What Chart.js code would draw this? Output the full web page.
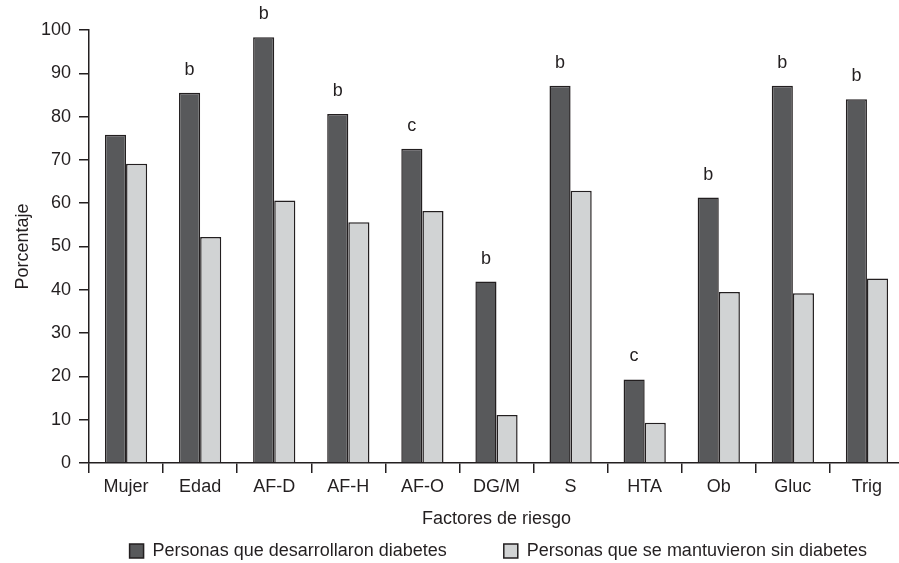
<!DOCTYPE html>
<html lang="es">
<head>
<meta charset="utf-8">
<title>Factores de riesgo</title>
<script src="https://cdn.jsdelivr.net/npm/chart.js@4.4.1/dist/chart.umd.min.js"></script>
<style>
  html, body { margin: 0; padding: 0; background: #fff; overflow: hidden; }
  /* la figure d'origine coupe la dernière catégorie au bord droit */
  #wrap { width: 904px; height: 563px; }
</style>
</head>
<body>
<div id="wrap"><canvas id="myChart"></canvas></div>
<script>
// Données
const factores = ['Mujer', 'Edad', 'AF-D', 'AF-H', 'AF-O', 'DG/M', 'S', 'HTA', 'Ob', 'Gluc', 'Trig'];
const conDiabetes = [75.8, 85.5, 98.3, 80.6, 72.6, 41.9, 87.1, 19.3, 61.3, 87.1, 84.0];
const sinDiabetes = [69.1, 52.2, 60.6, 55.6, 58.2, 11.1, 62.9, 9.3, 39.5, 39.2, 42.6];
const letras = ['', 'b', 'b', 'b', 'c', 'b', 'b', 'c', 'b', 'b', 'b'];
const yMin = 0;
const yMax = 100;
const yStep = 10;

const ink = '#231f20';
const font = '"Liberation Sans", Arial, Helvetica, sans-serif';

Chart.defaults.font.family = font;
Chart.defaults.font.size = 18;
Chart.defaults.color = ink;

// lettres de significativité au-dessus des barres foncées
const letrasPlugin = {
  id: 'letras',
  afterDatasetsDraw(chart) {
    const ctx = chart.ctx;
    const meta = chart.getDatasetMeta(0);
    ctx.save();
    ctx.font = '18px ' + font;
    ctx.fillStyle = ink;
    ctx.textAlign = 'center';
    ctx.textBaseline = 'middle';
    meta.data.forEach((bar, i) => {
      if (letras[i]) ctx.fillText(letras[i], bar.x, bar.y - 23);
    });
    ctx.restore();
  }
};

const legendPadding = 12;

new Chart(document.getElementById('myChart'), {
  type: 'bar',
  data: {
    labels: factores,
    datasets: [
      {
        label: 'Personas que desarrollaron diabetes',
        data: conDiabetes,
        backgroundColor: '#58595b',
        borderColor: ink,
        borderWidth: 1.5
      },
      {
        label: 'Personas que se mantuvieron sin diabetes',
        data: sinDiabetes,
        backgroundColor: '#d1d3d4',
        borderColor: ink,
        borderWidth: 1.5
      }
    ]
  },
  options: {
    responsive: true,
    maintainAspectRatio: false,
    animation: false,
    categoryPercentage: 0.57,
    barPercentage: 1.0,
    layout: {
      padding: { top: 30, right: 0, bottom: 0, left: 0 }
    },
    scales: {
      x: {
        grid: {
          offset: true,
          drawOnChartArea: false,
          drawTicks: true,
          tickLength: 10,
          color: ink,
          lineWidth: 1.5
        },
        border: { display: true, color: ink, width: 1.5 },
        ticks: { padding: 3, maxRotation: 0, font: { size: 18 } },
        title: {
          display: true,
          text: 'Factores de riesgo',
          font: { size: 18 },
          padding: { top: 0, bottom: 0 }
        },
        afterFit(scale) { scale.height = 67; }
      },
      y: {
        min: yMin,
        max: yMax,
        ticks: { stepSize: yStep, padding: 8, font: { size: 18 } },
        grid: {
          drawOnChartArea: false,
          drawTicks: true,
          tickLength: 10,
          color: ink,
          lineWidth: 1.5
        },
        border: { display: true, color: ink, width: 1.5 },
        title: {
          display: true,
          text: 'Porcentaje',
          font: { size: 18 },
          padding: { top: 12, bottom: 0 }
        },
        afterFit(scale) { scale.width = 89; }
      }
    },
    plugins: {
      tooltip: { enabled: false },
      legend: {
        position: 'bottom',
        align: 'end',
        maxHeight: legendPadding + 21,
        labels: {
          padding: legendPadding,
          boxWidth: 14,
          boxHeight: 14,
          font: { size: 18 },
          generateLabels(chart) {
            const items = Chart.defaults.plugins.legend.labels.generateLabels(chart);
            // espace entre les deux éléments de légende
            items[0].text += '         ';
            items[1].text += '     ';
            return items;
          }
        }
      }
    }
  },
  plugins: [letrasPlugin]
});
</script>
</body>
</html>
